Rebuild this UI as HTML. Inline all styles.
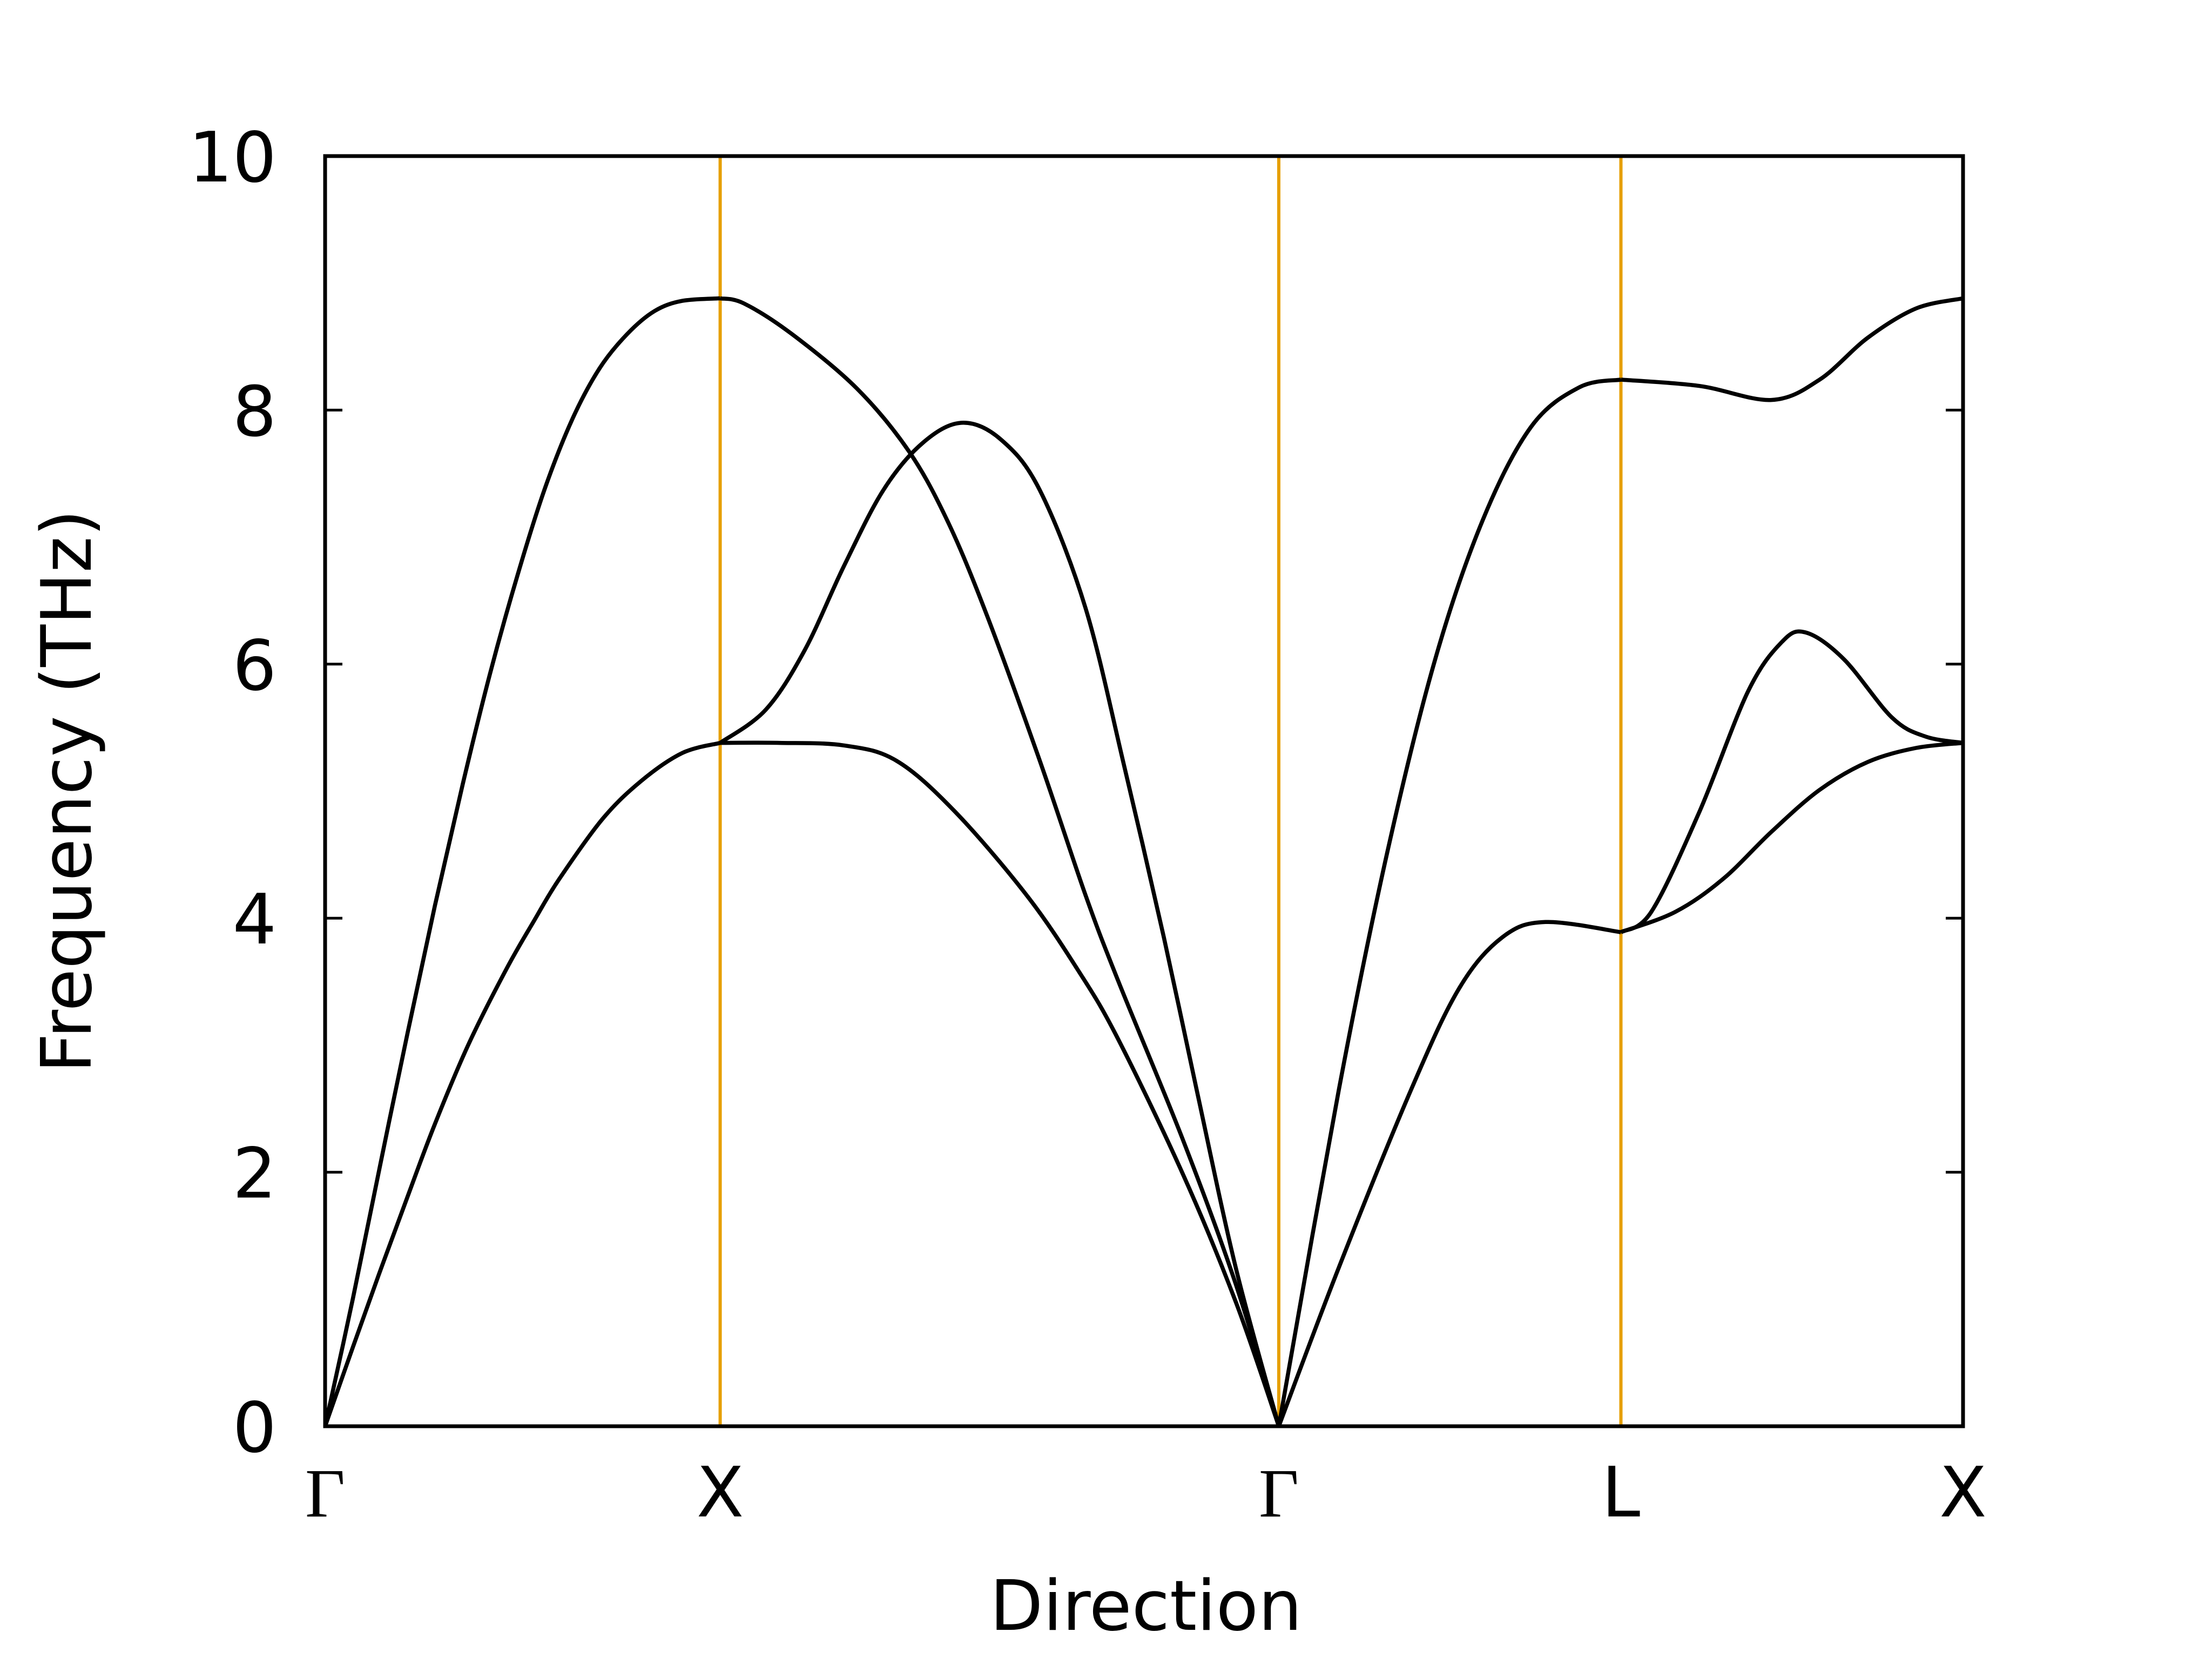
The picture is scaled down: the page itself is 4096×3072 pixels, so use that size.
<!DOCTYPE html>
<html><head><meta charset="utf-8"><style>
html,body{margin:0;padding:0;background:#fff;}
svg{display:block;}
text{font-family:"DejaVu Sans","Liberation Sans",sans-serif;fill:#000;}
</style></head><body>
<svg id="chart" width="4096" height="3072" viewBox="0 0 4096 3072" xmlns="http://www.w3.org/2000/svg">
<rect x="0" y="0" width="4096" height="3072" fill="#fff"/>
<g id="vlines"></g>
<g id="bands"></g>
<g id="axes"></g>
</svg>
<script>
const yTicks = [0, 2, 4, 6, 8, 10];
const kLabels = ["Γ", "X", "Γ", "L", "X"];
const kPoints = [0, 1, 2.414, 3.280, 4.146];
const bandGX_lower = [[0,0],[0.07,0.62],[0.139,1.22],[0.209,1.81],[0.278,2.38],[0.362,3.0],[0.459,3.6],[0.529,3.98],[0.591,4.3],[0.702,4.78],[0.8,5.08],[0.904,5.3],[1,5.38]];
const bandGX_upper = [[0,0],[0.07,1.0],[0.139,2.05],[0.209,3.1],[0.278,4.1],[0.348,5.05],[0.417,5.92],[0.487,6.7],[0.556,7.38],[0.626,7.93],[0.695,8.33],[0.765,8.6],[0.834,8.78],[0.904,8.86],[1,8.88]];
const bandXG_1 = [[1,5.38],[1.15,5.38],[1.313,5.36],[1.446,5.24],[1.594,4.84],[1.776,4.18],[1.908,3.58],[2.007,3.05],[2.172,1.98],[2.305,0.98],[2.414,0]];
const bandXG_2 = [[1,8.88],[1.06,8.84],[1.181,8.6],[1.346,8.17],[1.479,7.67],[1.578,7.11],[1.677,6.37],[1.809,5.24],[1.925,4.18],[2.007,3.51],[2.172,2.25],[2.305,1.12],[2.414,0]];
const bandXG_3 = [[1,5.38],[1.115,5.64],[1.214,6.11],[1.313,6.77],[1.413,7.37],[1.512,7.74],[1.611,7.9],[1.71,7.77],[1.809,7.37],[1.925,6.44],[2.024,5.18],[2.123,3.85],[2.206,2.65],[2.305,1.25],[2.414,0]];
const bandGL_upper = [[2.414,0],[2.566,2.65],[2.688,4.51],[2.81,6.04],[2.931,7.14],[3.053,7.87],[3.175,8.18],[3.28,8.24]];
const bandGL_lower = [[2.414,0],[2.566,1.25],[2.749,2.65],[2.871,3.45],[2.98,3.85],[3.089,3.97],[3.28,3.89]];
const bandLX_upper = [[3.28,8.24],[3.479,8.19],[3.661,8.08],[3.783,8.24],[3.905,8.57],[4.027,8.8],[4.146,8.88]];
const bandLX_mid = [[3.28,3.89],[3.357,4.05],[3.479,4.84],[3.601,5.78],[3.686,6.17],[3.747,6.25],[3.844,6.04],[3.966,5.58],[4.051,5.43],[4.146,5.38]];
const bandLX_lower = [[3.28,3.89],[3.418,4.05],[3.539,4.31],[3.661,4.68],[3.783,5.01],[3.905,5.23],[4.027,5.34],[4.146,5.38]];

const NS = "http://www.w3.org/2000/svg";
const L = 602, R = 3635, T = 289, B = 2641;
const kMax = kPoints[kPoints.length - 1];
function xs(k){ return L + (k / kMax) * (R - L); }
function ys(f){ return B - (f / 10) * (B - T); }
function mk(tag, attrs, parent){ const e = document.createElementNS(NS, tag); for (const a in attrs) e.setAttribute(a, attrs[a]); parent.appendChild(e); return e; }
function smoothPath(pts){
  const p = pts.map(d => [xs(d[0]), ys(d[1])]);
  let s = "M" + p[0][0].toFixed(1) + "," + p[0][1].toFixed(1);
  for (let i = 0; i < p.length - 1; i++){
    const p0 = p[i-1] || p[i], p1 = p[i], p2 = p[i+1], p3 = p[i+2] || p[i+1];
    const c1 = [p1[0] + (p2[0]-p0[0])/6, p1[1] + (p2[1]-p0[1])/6];
    const c2 = [p2[0] - (p3[0]-p1[0])/6, p2[1] - (p3[1]-p1[1])/6];
    s += " C" + c1[0].toFixed(1) + "," + c1[1].toFixed(1) + " " + c2[0].toFixed(1) + "," + c2[1].toFixed(1) + " " + p2[0].toFixed(1) + "," + p2[1].toFixed(1);
  }
  return s;
}
const vl = document.getElementById("vlines");
for (let i = 1; i < kPoints.length - 1; i++){
  const ln = mk("line", {x1: xs(kPoints[i]), x2: xs(kPoints[i]), y1: T, y2: B, stroke: "#e69f00", "stroke-width": 6}, vl);
  
  
}
const bands = [bandGX_lower, bandGX_upper, bandXG_1, bandXG_2, bandXG_3, bandGL_upper, bandGL_lower, bandLX_upper, bandLX_mid, bandLX_lower];
const bg = document.getElementById("bands");
bands.forEach(b => {
  const p = mk("path", {d: smoothPath(b), fill: "none", stroke: "#000", "stroke-width": 7.5, "stroke-linejoin": "round"}, bg);
  
  
});
const ax = document.getElementById("axes");
const frame = mk("rect", {x: L, y: T, width: R - L, height: B - T, fill: "none", stroke: "#000", "stroke-width": 7}, ax);


yTicks.forEach(v => {
  const y = ys(v);
  const t1 = mk("line", {x1: L, x2: L + 32, y1: y, y2: y, stroke: "#000", "stroke-width": 5}, ax);
  
  
  const t2 = mk("line", {x1: R - 32, x2: R, y1: y, y2: y, stroke: "#000", "stroke-width": 5}, ax);
  
  
  const tx = mk("text", {x: 512, y: y + 47, "text-anchor": "end", "font-size": 128}, ax);
  tx.textContent = String(v);
  
  
});
kLabels.forEach((lab, i) => {
  const tx = mk("text", {x: xs(kPoints[i]), y: 2808, "text-anchor": "middle", "font-size": 128}, ax);
  if (lab === "Γ") tx.setAttribute("style", "font-family:'Liberation Serif',serif");
  tx.textContent = lab;
  
  
});
const xt = mk("text", {x: 2122, y: 3018, "text-anchor": "middle", "font-size": 128}, ax);
xt.textContent = "Direction";


const yt = mk("text", {x: 0, y: 0, "text-anchor": "middle", "font-size": 128, transform: "translate(168,1465) rotate(-90)"}, ax);
yt.textContent = "Frequency (THz)";


</script>
</body></html>
